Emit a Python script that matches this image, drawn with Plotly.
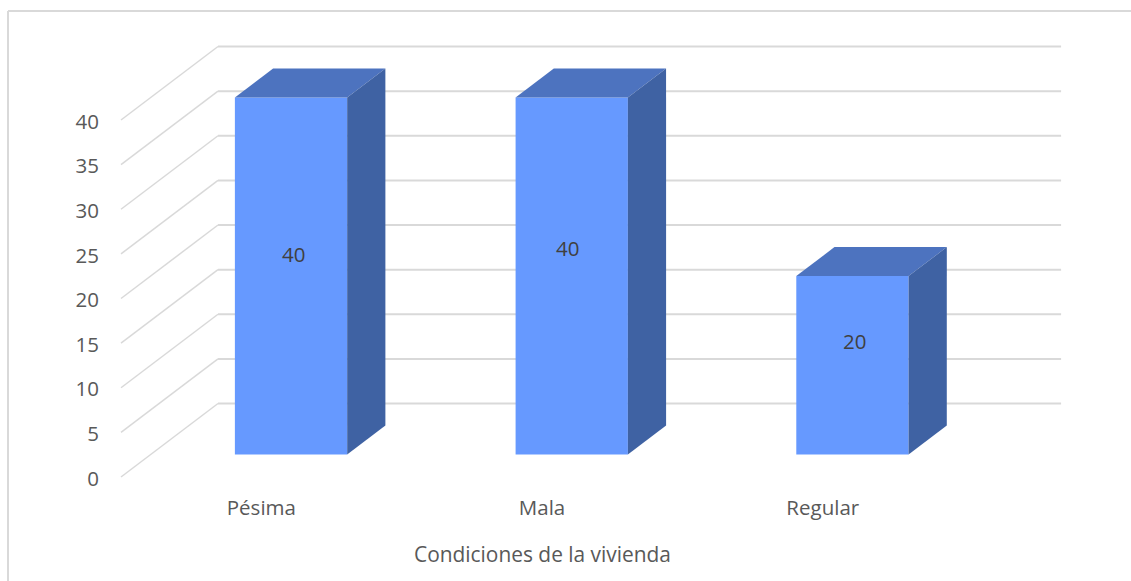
import plotly.graph_objects as go

categories = ["Pésima", "Mala", "Regular"]
values = [40, 40, 20]
tick_values = [0, 5, 10, 15, 20, 25, 30, 35, 40]
axis_title = "Condiciones de la vivienda"

W, H = 1131, 581
FONT = "Open Sans"
FS = 20.5
TXT = "#595959"
GRID = "#d9d9d9"
FRONT = "#6699FF"
TOP = "#4D73BF"
SIDE = "#3F62A3"

# oblique projection: how far the back wall sits from the front plane, in axis units
DX = 97 / 280.7
DY = 73.5 / 8.925
NEAR_X, NEAR_Y, DEPTH = 0.306, 0.305, 0.394
BAR_W = 0.4

# plot-area layout
ML, MR, MT, MB = 111, 60, 37, 88
x_lo = -0.5 - 10 / 280.7
x_hi = x_lo + (W - ML - MR) / 280.7
y_hi = (477 - MT) / 8.925
y_lo = (477 - (H - MB)) / 8.925
TICK_NUDGE = 1.5 / 8.925

fig = go.Figure()

# front faces
fig.add_trace(go.Bar(
    x=[i + NEAR_X * DX for i in range(len(values))],
    y=values,
    base=[NEAR_Y * DY] * len(values),
    width=BAR_W,
    marker=dict(color=FRONT, line=dict(width=0)),
    hoverinfo="skip",
))

# top and side faces
for i, v in enumerate(values):
    xl = i + NEAR_X * DX - BAR_W / 2
    xr = xl + BAR_W
    yb = NEAR_Y * DY
    yt = yb + v
    ddx = DEPTH * DX
    ddy = DEPTH * DY
    fig.add_trace(go.Scatter(
        x=[xl, xr, xr + ddx, xl + ddx, xl], y=[yt, yt, yt + ddy, yt + ddy, yt],
        mode="lines", fill="toself", fillcolor=TOP, line=dict(width=0),
        hoverinfo="skip"))
    fig.add_trace(go.Scatter(
        x=[xr, xr + ddx, xr + ddx, xr, xr], y=[yb, yb + ddy, yt + ddy, yt, yb],
        mode="lines", fill="toself", fillcolor=SIDE, line=dict(width=0),
        hoverinfo="skip"))

# grid lines: wall and floor diagonals, behind the bars
shapes = []
x_front = -0.5
x_back = -0.5 + DX
x_end = x_back + len(categories) + 1 / 280.7
for t in tick_values:
    shapes.append(dict(type="line", layer="below", xref="x", yref="y",
                       x0=x_front, y0=t, x1=x_back, y1=t + DY,
                       line=dict(color=GRID, width=1.5)))
    shapes.append(dict(type="line", layer="below", xref="x", yref="y",
                       x0=x_back, y0=t + DY, x1=x_end, y1=t + DY,
                       line=dict(color=GRID, width=2)))

# outer frame (top and left edges only)
pw, ph = W - ML - MR, H - MT - MB
px = lambda p: (p - ML) / pw
py = lambda p: 1 - (p - MT) / ph
shapes.append(dict(type="line", xref="paper", yref="paper", layer="below",
                   x0=px(8), x1=px(W), y0=py(11), y1=py(11),
                   line=dict(color=GRID, width=2)))
shapes.append(dict(type="line", xref="paper", yref="paper", layer="below",
                   x0=px(8), x1=px(8), y0=py(11), y1=py(H),
                   line=dict(color=GRID, width=2)))

# data labels (moved by hand in the original)
label_dx = [2, -4, 2]
label_dy = [-22, -28, -24.5]
annotations = [
    dict(x=i + NEAR_X * DX, y=NEAR_Y * DY + v / 2, text=str(v), showarrow=False,
         xshift=label_dx[i], yshift=-label_dy[i],
         font=dict(family=FONT, size=FS, color="#404040"))
    for i, v in enumerate(values)
]
annotations.append(dict(
    x=1, xref="x", y=py(553.5), yref="paper", yanchor="middle", text=axis_title,
    showarrow=False, font=dict(family=FONT, size=20.9, color=TXT)))

fig.update_layout(
    width=W, height=H, autosize=False,
    margin=dict(l=ML, r=MR, t=MT, b=MB, pad=0),
    paper_bgcolor="white", plot_bgcolor="white",
    showlegend=False,
    shapes=shapes,
    annotations=annotations,
    xaxis=dict(range=[x_lo, x_hi], tickvals=list(range(len(categories))),
               ticktext=categories, showgrid=False, zeroline=False, showline=False,
               ticks="", ticklabelstandoff=0,
               tickfont=dict(family=FONT, size=FS, color=TXT)),
    yaxis=dict(range=[y_lo, y_hi], tickvals=[t - TICK_NUDGE for t in tick_values],
               ticktext=[str(t) for t in tick_values], showgrid=False,
               zeroline=False, showline=False, ticks="", ticklabelstandoff=11,
               tickfont=dict(family=FONT, size=FS, color=TXT)),
)

fig.write_html("out.html", config={"displayModeBar": False},
               post_script="document.body.style.margin='0';document.documentElement.style.overflow='hidden';")
